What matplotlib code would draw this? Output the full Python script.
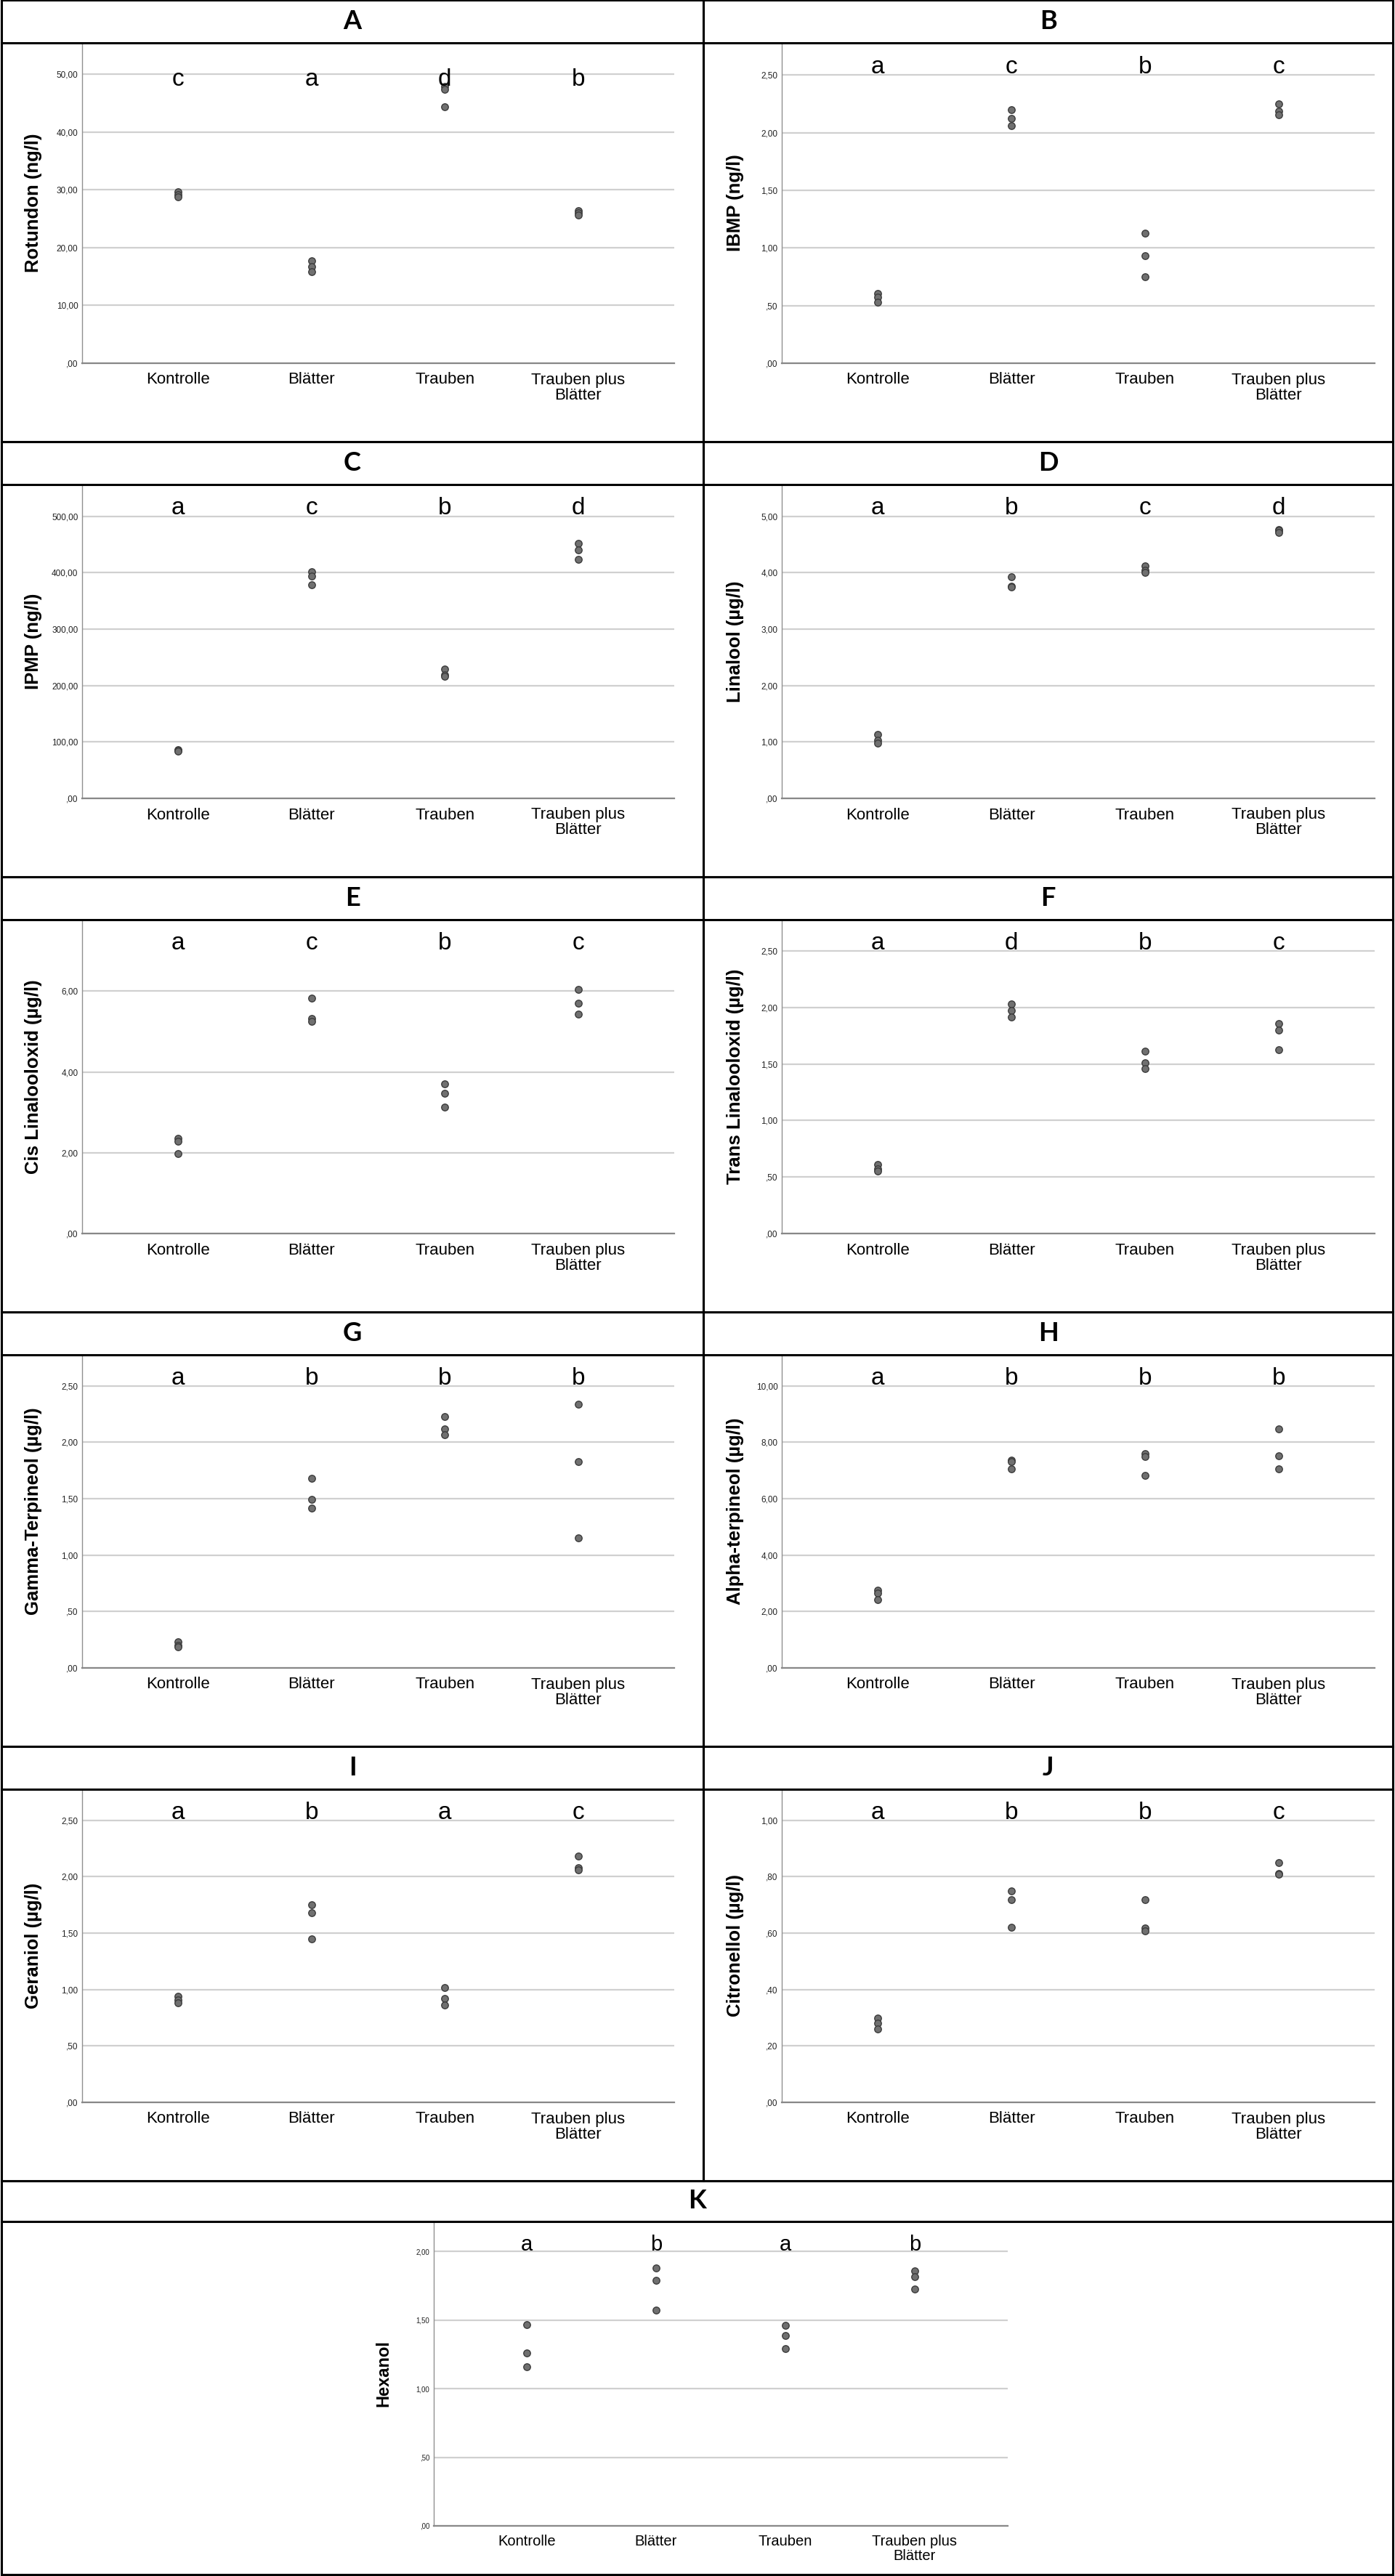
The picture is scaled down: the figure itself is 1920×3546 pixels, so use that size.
import numpy as np
import matplotlib.pyplot as plt
from matplotlib.patches import Rectangle
from matplotlib.lines import Line2D

plt.rcParams['font.family'] = ['Liberation Sans', 'DejaVu Sans']

groups = ['Kontrolle', 'Blätter', 'Trauben', 'Trauben plus\nBlätter']

# measured values per group (three replicates each)
rotundon = [[29.6, 29.2, 28.8], [17.7, 16.7, 15.8], [47.9, 47.3, 44.4], [26.4, 26.0, 25.6]]
ibmp = [[0.605, 0.572, 0.529], [2.203, 2.122, 2.061], [1.129, 0.930, 0.748], [2.250, 2.185, 2.155]]
ipmp = [[86.0, 85.0, 84.0], [401.7, 393.7, 378.7], [229.5, 219.0, 216.0], [452.0, 439.6, 423.6]]
linalool = [[1.135, 1.025, 0.975], [3.925, 3.76, 3.75], [4.125, 4.05, 4.0], [4.77, 4.75, 4.72]]
cis_lin = [[2.355, 2.286, 1.986], [5.826, 5.317, 5.247], [3.714, 3.463, 3.136], [6.049, 5.693, 5.429]]
trans_lin = [[0.611, 0.57, 0.553], [2.030, 1.972, 1.917], [1.616, 1.510, 1.457], [1.859, 1.799, 1.628]]
gamma_terp = [[0.231, 0.20, 0.189], [1.679, 1.493, 1.420], [2.229, 2.122, 2.067], [2.338, 1.828, 1.152]]
alpha_terp = [[2.745, 2.645, 2.425], [7.365, 7.305, 7.066], [7.605, 7.485, 6.836], [8.483, 7.525, 7.066]]
geraniol = [[0.943, 0.91, 0.88], [1.75, 1.68, 1.45], [1.02, 0.92, 0.86], [2.18, 2.08, 2.06]]
citronellol = [[0.300, 0.280, 0.260], [0.750, 0.719, 0.620], [0.719, 0.619, 0.609], [0.850, 0.810, 0.808]]
hexanol = [[1.467, 1.259, 1.161], [1.880, 1.791, 1.570], [1.459, 1.389, 1.291], [1.857, 1.815, 1.728]]

panel_ids = ['A', 'B', 'C', 'D', 'E', 'F', 'G', 'H', 'I', 'J', 'K']
panel_data = [rotundon, ibmp, ipmp, linalool, cis_lin, trans_lin,
              gamma_terp, alpha_terp, geraniol, citronellol, hexanol]
ylabels = ['Rotundon (ng/l)', 'IBMP (ng/l)', 'IPMP (ng/l)', 'Linalool (µg/l)',
           'Cis Linalooloxid (µg/l)', 'Trans Linalooloxid (µg/l)',
           'Gamma-Terpineol (µg/l)', 'Alpha-terpineol (µg/l)',
           'Geraniol (µg/l)', 'Citronellol (µg/l)', 'Hexanol']
sig_letters = [['c', 'a', 'd', 'b'], ['a', 'c', 'b', 'c'], ['a', 'c', 'b', 'd'],
               ['a', 'b', 'c', 'd'], ['a', 'c', 'b', 'c'], ['a', 'd', 'b', 'c'],
               ['a', 'b', 'b', 'b'], ['a', 'b', 'b', 'b'], ['a', 'b', 'a', 'c'],
               ['a', 'b', 'b', 'c'], ['a', 'b', 'a', 'b']]
y_tops = [55.4, 2.78, 556, 5.565, 7.77, 2.776, 2.776, 11.1, 2.775, 1.11, 2.218]
y_steps = [10, 0.5, 100, 1, 2, 0.5, 0.5, 2, 0.5, 0.2, 0.5]

W, H = 1920, 3546
fig = plt.figure(figsize=(W / 100, H / 100), dpi=100)


def fx(x):
    return x / W


def fy(y):
    return 1 - y / H


def de_fmt(v):
    s = f'{v:.2f}'.replace('.', ',')
    if s.startswith('0,'):
        s = s[1:]
    return s


def draw_cell(x0, x1, y0, y1, hdr, label):
    fig.add_artist(Rectangle((fx(x0), fy(y1)), fx(x1) - fx(x0), fy(y0) - fy(y1),
                             transform=fig.transFigure, fill=False, ec='black', lw=2.2))
    fig.add_artist(Line2D([fx(x0), fx(x1)], [fy(hdr), fy(hdr)],
                          transform=fig.transFigure, color='black', lw=2.2))
    fig.text(fx((x0 + x1) / 2), fy((y0 + hdr) / 2), label, ha='center', va='center',
             fontsize=26, fontweight='bold', family=['Lato', 'DejaVu Sans'])


rows_y = [0, 608, 1207, 1806, 2404, 3002, 3544]

for k in range(11):
    if k < 10:
        r, c = divmod(k, 2)
        y0, y1 = rows_y[r], rows_y[r + 1]
        x0, x1 = (2, 968) if c == 0 else (968, 1917)
        hdr = y0 + 59
        ax_l, ax_r = (113, 928) if c == 0 else (1076, 1892)
        ax_b = y1 - 108
        lab_x = x0 + 56
        xfs, yfs, lfs, tfs = 16, 18.5, 24, 8.5
    else:
        y0, y1 = rows_y[5], rows_y[6]
        x0, x1 = 2, 1917
        hdr = y0 + 56
        ax_l, ax_r = 597, 1387
        ax_b = y1 - 67
        lab_x = 539
        xfs, yfs, lfs, tfs = 14.5, 17, 21, 7
    draw_cell(x0, x1, y0, y1, hdr, panel_ids[k])

    ax = fig.add_axes([fx(ax_l), fy(ax_b), fx(ax_r) - fx(ax_l), fy(hdr) - fy(ax_b)])
    vals = panel_data[k]
    for i, v in enumerate(vals):
        ax.scatter([i] * len(v), v, s=46, c='#707070', edgecolors='#3c3c3c',
                   linewidths=1.0, zorder=3)
    ax.set_xlim(-0.72, 3.72)
    ax.set_ylim(0, y_tops[k])
    ticks = np.arange(0, y_tops[k], y_steps[k])
    ax.set_yticks(ticks)
    ax.set_yticklabels([de_fmt(t) for t in ticks], fontsize=tfs, color='#222222')
    ax.set_xticks(range(4))
    ax.set_xticklabels(groups, fontsize=xfs, linespacing=1.0)
    ax.tick_params(axis='x', length=0, pad=9)
    ax.tick_params(axis='y', length=0, pad=4)
    ax.yaxis.grid(True, color='#d0d0d0', lw=1.6)
    ax.set_axisbelow(True)
    for side in ['top', 'right']:
        ax.spines[side].set_visible(False)
    ax.spines['left'].set_color('#909090')
    ax.spines['left'].set_linewidth(1.0)
    ax.spines['bottom'].set_color('#888888')
    ax.spines['bottom'].set_linewidth(1.6)
    ax.set_ylabel(ylabels[k], fontsize=yfs, fontweight='bold')
    ax.yaxis.set_label_coords((lab_x - ax_l) / (ax_r - ax_l), 0.5)

    ly = 0.867 if k == 0 else 0.905
    for i, letter in enumerate(sig_letters[k]):
        ax.text(i, ly, letter, transform=ax.get_xaxis_transform(), ha='center',
                va='baseline', fontsize=lfs, zorder=4)

fig.savefig('out.png', dpi=100)
